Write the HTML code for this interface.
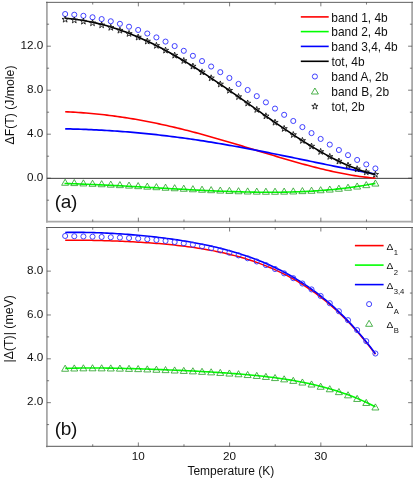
<!DOCTYPE html>
<html><head><meta charset="utf-8"><title>fig</title>
<style>
html,body{margin:0;padding:0;background:#fff}
#c{position:relative;width:415px;height:479px;overflow:hidden;background:#fff;font-family:"Liberation Sans",sans-serif;color:#111}
.t{position:absolute;line-height:0;white-space:nowrap;height:0}
.t::before{content:"";display:inline-block;height:0;vertical-align:baseline}
.t.c{transform:translateX(-50%)}
.t.rot{transform-origin:0 0;transform:rotate(-90deg) translateX(-50%)}
</style></head><body>
<div id="c">
<svg width="415" height="479" viewBox="0 0 415 479" style="position:absolute;left:0;top:0;will-change:transform">
<line x1="46.9" y1="1.85" x2="46.9" y2="222.55" stroke="#a8a8a8" stroke-width="1.8"/>
<line x1="412.1" y1="1.85" x2="412.1" y2="222.55" stroke="#a8a8a8" stroke-width="1.8"/>
<line x1="46.0" y1="221.65" x2="413.0" y2="221.65" stroke="#a8a8a8" stroke-width="1.8"/>
<line x1="46.0" y1="2.35" x2="413.0" y2="2.35" stroke="#606060" stroke-width="1"/>
<line x1="46.9" y1="227.0" x2="46.9" y2="447.34999999999997" stroke="#a8a8a8" stroke-width="1.8"/>
<line x1="412.1" y1="227.0" x2="412.1" y2="447.34999999999997" stroke="#a8a8a8" stroke-width="1.8"/>
<line x1="46.0" y1="446.45" x2="413.0" y2="446.45" stroke="#777" stroke-width="1.2"/>
<line x1="46.0" y1="227.5" x2="413.0" y2="227.5" stroke="#606060" stroke-width="1"/>
<line x1="92.72" y1="2.35" x2="92.72" y2="4.550000000000001" stroke="#444" stroke-width="0.7"/>
<line x1="92.72" y1="221.65" x2="92.72" y2="219.45000000000002" stroke="#444" stroke-width="0.7"/>
<line x1="92.72" y1="227.5" x2="92.72" y2="229.7" stroke="#444" stroke-width="0.7"/>
<line x1="92.72" y1="446.45" x2="92.72" y2="444.25" stroke="#444" stroke-width="0.7"/>
<line x1="138.35" y1="2.35" x2="138.35" y2="6.35" stroke="#444" stroke-width="0.7"/>
<line x1="138.35" y1="221.65" x2="138.35" y2="217.65" stroke="#444" stroke-width="0.7"/>
<line x1="138.35" y1="227.5" x2="138.35" y2="231.5" stroke="#444" stroke-width="0.7"/>
<line x1="138.35" y1="446.45" x2="138.35" y2="442.45" stroke="#444" stroke-width="0.7"/>
<line x1="183.97" y1="2.35" x2="183.97" y2="4.550000000000001" stroke="#444" stroke-width="0.7"/>
<line x1="183.97" y1="221.65" x2="183.97" y2="219.45000000000002" stroke="#444" stroke-width="0.7"/>
<line x1="183.97" y1="227.5" x2="183.97" y2="229.7" stroke="#444" stroke-width="0.7"/>
<line x1="183.97" y1="446.45" x2="183.97" y2="444.25" stroke="#444" stroke-width="0.7"/>
<line x1="229.60" y1="2.35" x2="229.60" y2="6.35" stroke="#444" stroke-width="0.7"/>
<line x1="229.60" y1="221.65" x2="229.60" y2="217.65" stroke="#444" stroke-width="0.7"/>
<line x1="229.60" y1="227.5" x2="229.60" y2="231.5" stroke="#444" stroke-width="0.7"/>
<line x1="229.60" y1="446.45" x2="229.60" y2="442.45" stroke="#444" stroke-width="0.7"/>
<line x1="275.23" y1="2.35" x2="275.23" y2="4.550000000000001" stroke="#444" stroke-width="0.7"/>
<line x1="275.23" y1="221.65" x2="275.23" y2="219.45000000000002" stroke="#444" stroke-width="0.7"/>
<line x1="275.23" y1="227.5" x2="275.23" y2="229.7" stroke="#444" stroke-width="0.7"/>
<line x1="275.23" y1="446.45" x2="275.23" y2="444.25" stroke="#444" stroke-width="0.7"/>
<line x1="320.85" y1="2.35" x2="320.85" y2="6.35" stroke="#444" stroke-width="0.7"/>
<line x1="320.85" y1="221.65" x2="320.85" y2="217.65" stroke="#444" stroke-width="0.7"/>
<line x1="320.85" y1="227.5" x2="320.85" y2="231.5" stroke="#444" stroke-width="0.7"/>
<line x1="320.85" y1="446.45" x2="320.85" y2="442.45" stroke="#444" stroke-width="0.7"/>
<line x1="366.48" y1="2.35" x2="366.48" y2="4.550000000000001" stroke="#444" stroke-width="0.7"/>
<line x1="366.48" y1="221.65" x2="366.48" y2="219.45000000000002" stroke="#444" stroke-width="0.7"/>
<line x1="366.48" y1="227.5" x2="366.48" y2="229.7" stroke="#444" stroke-width="0.7"/>
<line x1="366.48" y1="446.45" x2="366.48" y2="444.25" stroke="#444" stroke-width="0.7"/>
<line x1="46.9" y1="200.20" x2="49.1" y2="200.20" stroke="#444" stroke-width="0.7"/>
<line x1="412.1" y1="200.20" x2="409.90000000000003" y2="200.20" stroke="#444" stroke-width="0.7"/>
<line x1="46.9" y1="178.20" x2="50.9" y2="178.20" stroke="#444" stroke-width="0.7"/>
<line x1="412.1" y1="178.20" x2="408.1" y2="178.20" stroke="#444" stroke-width="0.7"/>
<line x1="46.9" y1="156.20" x2="49.1" y2="156.20" stroke="#444" stroke-width="0.7"/>
<line x1="412.1" y1="156.20" x2="409.90000000000003" y2="156.20" stroke="#444" stroke-width="0.7"/>
<line x1="46.9" y1="134.20" x2="50.9" y2="134.20" stroke="#444" stroke-width="0.7"/>
<line x1="412.1" y1="134.20" x2="408.1" y2="134.20" stroke="#444" stroke-width="0.7"/>
<line x1="46.9" y1="112.20" x2="49.1" y2="112.20" stroke="#444" stroke-width="0.7"/>
<line x1="412.1" y1="112.20" x2="409.90000000000003" y2="112.20" stroke="#444" stroke-width="0.7"/>
<line x1="46.9" y1="90.20" x2="50.9" y2="90.20" stroke="#444" stroke-width="0.7"/>
<line x1="412.1" y1="90.20" x2="408.1" y2="90.20" stroke="#444" stroke-width="0.7"/>
<line x1="46.9" y1="68.20" x2="49.1" y2="68.20" stroke="#444" stroke-width="0.7"/>
<line x1="412.1" y1="68.20" x2="409.90000000000003" y2="68.20" stroke="#444" stroke-width="0.7"/>
<line x1="46.9" y1="46.20" x2="50.9" y2="46.20" stroke="#444" stroke-width="0.7"/>
<line x1="412.1" y1="46.20" x2="408.1" y2="46.20" stroke="#444" stroke-width="0.7"/>
<line x1="46.9" y1="24.20" x2="49.1" y2="24.20" stroke="#444" stroke-width="0.7"/>
<line x1="412.1" y1="24.20" x2="409.90000000000003" y2="24.20" stroke="#444" stroke-width="0.7"/>
<line x1="46.9" y1="424.58" x2="49.1" y2="424.58" stroke="#444" stroke-width="0.7"/>
<line x1="412.1" y1="424.58" x2="409.90000000000003" y2="424.58" stroke="#444" stroke-width="0.7"/>
<line x1="46.9" y1="402.66" x2="50.9" y2="402.66" stroke="#444" stroke-width="0.7"/>
<line x1="412.1" y1="402.66" x2="408.1" y2="402.66" stroke="#444" stroke-width="0.7"/>
<line x1="46.9" y1="380.74" x2="49.1" y2="380.74" stroke="#444" stroke-width="0.7"/>
<line x1="412.1" y1="380.74" x2="409.90000000000003" y2="380.74" stroke="#444" stroke-width="0.7"/>
<line x1="46.9" y1="358.82" x2="50.9" y2="358.82" stroke="#444" stroke-width="0.7"/>
<line x1="412.1" y1="358.82" x2="408.1" y2="358.82" stroke="#444" stroke-width="0.7"/>
<line x1="46.9" y1="336.90" x2="49.1" y2="336.90" stroke="#444" stroke-width="0.7"/>
<line x1="412.1" y1="336.90" x2="409.90000000000003" y2="336.90" stroke="#444" stroke-width="0.7"/>
<line x1="46.9" y1="314.98" x2="50.9" y2="314.98" stroke="#444" stroke-width="0.7"/>
<line x1="412.1" y1="314.98" x2="408.1" y2="314.98" stroke="#444" stroke-width="0.7"/>
<line x1="46.9" y1="293.06" x2="49.1" y2="293.06" stroke="#444" stroke-width="0.7"/>
<line x1="412.1" y1="293.06" x2="409.90000000000003" y2="293.06" stroke="#444" stroke-width="0.7"/>
<line x1="46.9" y1="271.14" x2="50.9" y2="271.14" stroke="#444" stroke-width="0.7"/>
<line x1="412.1" y1="271.14" x2="408.1" y2="271.14" stroke="#444" stroke-width="0.7"/>
<line x1="46.9" y1="249.22" x2="49.1" y2="249.22" stroke="#444" stroke-width="0.7"/>
<line x1="412.1" y1="249.22" x2="409.90000000000003" y2="249.22" stroke="#444" stroke-width="0.7"/>
<line x1="46.9" y1="178.35" x2="412.1" y2="178.35" stroke="#3c3c3c" stroke-width="1"/>
<path d="M64.50,183.47 L67.11,183.56 L69.73,183.64 L72.34,183.73 L74.95,183.82 L77.56,183.91 L80.18,184.01 L82.79,184.11 L85.40,184.21 L88.01,184.32 L90.63,184.43 L93.24,184.54 L95.85,184.65 L98.46,184.77 L101.08,184.89 L103.69,185.01 L106.30,185.13 L108.91,185.26 L111.53,185.39 L114.14,185.52 L116.75,185.65 L119.36,185.79 L121.98,185.92 L124.59,186.06 L127.20,186.20 L129.82,186.34 L132.43,186.48 L135.04,186.62 L137.65,186.77 L140.27,186.91 L142.88,187.06 L145.49,187.21 L148.10,187.36 L150.72,187.50 L153.33,187.65 L155.94,187.80 L158.55,187.95 L161.17,188.10 L163.78,188.25 L166.39,188.40 L169.00,188.54 L171.62,188.69 L174.23,188.84 L176.84,188.98 L179.45,189.13 L182.07,189.27 L184.68,189.42 L187.29,189.56 L189.91,189.70 L192.52,189.83 L195.13,189.97 L197.74,190.10 L200.36,190.23 L202.97,190.36 L205.58,190.49 L208.19,190.61 L210.81,190.74 L213.42,190.85 L216.03,190.97 L218.64,191.08 L221.26,191.19 L223.87,191.29 L226.48,191.39 L229.09,191.48 L231.71,191.58 L234.32,191.66 L236.93,191.74 L239.54,191.82 L242.16,191.89 L244.77,191.96 L247.38,192.02 L249.99,192.07 L252.61,192.12 L255.22,192.16 L257.83,192.20 L260.45,192.23 L263.06,192.25 L265.67,192.27 L268.28,192.28 L270.90,192.28 L273.51,192.27 L276.12,192.26 L278.73,192.23 L281.35,192.20 L283.96,192.16 L286.57,192.11 L289.18,192.05 L291.80,191.99 L294.41,191.91 L297.02,191.82 L299.63,191.73 L302.25,191.62 L304.86,191.50 L307.47,191.37 L310.08,191.23 L312.70,191.08 L315.31,190.92 L317.92,190.74 L320.54,190.56 L323.15,190.36 L325.76,190.14 L328.37,189.92 L330.99,189.68 L333.60,189.43 L336.21,189.16 L338.82,188.88 L341.44,188.59 L344.05,188.28 L346.66,187.96 L349.27,187.62 L351.89,187.27 L354.50,186.90 L357.11,186.51 L359.72,186.11 L362.34,185.69 L364.95,185.25 L367.56,184.80 L370.17,184.33 L372.79,183.84 L375.40,183.34" fill="none" stroke="#00ff00" stroke-width="1.6"/>
<path d="M65.20,111.77 L67.81,111.88 L70.41,112.01 L73.02,112.15 L75.63,112.31 L78.23,112.47 L80.84,112.65 L83.45,112.84 L86.05,113.04 L88.66,113.26 L91.27,113.49 L93.87,113.73 L96.48,113.98 L99.09,114.25 L101.69,114.53 L104.30,114.82 L106.91,115.13 L109.51,115.44 L112.12,115.77 L114.73,116.12 L117.33,116.47 L119.94,116.84 L122.55,117.22 L125.15,117.62 L127.76,118.02 L130.37,118.44 L132.97,118.88 L135.58,119.32 L138.19,119.78 L140.79,120.24 L143.40,120.72 L146.01,121.22 L148.62,121.72 L151.22,122.24 L153.83,122.76 L156.44,123.30 L159.04,123.85 L161.65,124.41 L164.26,124.99 L166.86,125.57 L169.47,126.16 L172.08,126.77 L174.68,127.38 L177.29,128.00 L179.90,128.64 L182.50,129.28 L185.11,129.93 L187.72,130.59 L190.32,131.27 L192.93,131.94 L195.54,132.63 L198.14,133.33 L200.75,134.03 L203.36,134.74 L205.96,135.46 L208.57,136.19 L211.18,136.92 L213.78,137.66 L216.39,138.40 L219.00,139.15 L221.60,139.91 L224.21,140.67 L226.82,141.44 L229.42,142.21 L232.03,142.98 L234.64,143.76 L237.24,144.54 L239.85,145.33 L242.46,146.11 L245.06,146.90 L247.67,147.69 L250.28,148.49 L252.88,149.28 L255.49,150.07 L258.10,150.87 L260.70,151.66 L263.31,152.45 L265.92,153.24 L268.52,154.03 L271.13,154.82 L273.74,155.60 L276.34,156.38 L278.95,157.16 L281.56,157.94 L284.16,158.71 L286.77,159.47 L289.38,160.23 L291.98,160.98 L294.59,161.72 L297.20,162.46 L299.81,163.19 L302.41,163.91 L305.02,164.62 L307.63,165.33 L310.23,166.02 L312.84,166.70 L315.45,167.37 L318.05,168.03 L320.66,168.68 L323.27,169.31 L325.87,169.93 L328.48,170.53 L331.09,171.12 L333.69,171.70 L336.30,172.25 L338.91,172.79 L341.51,173.32 L344.12,173.82 L346.73,174.30 L349.33,174.77 L351.94,175.21 L354.55,175.64 L357.15,176.04 L359.76,176.42 L362.37,176.77 L364.97,177.10 L367.58,177.41 L370.19,177.69 L372.79,177.95 L375.40,178.17" fill="none" stroke="#ff0000" stroke-width="1.6"/>
<path d="M65.20,128.84 L67.81,128.90 L70.41,128.96 L73.02,129.03 L75.63,129.10 L78.23,129.18 L80.84,129.27 L83.45,129.36 L86.05,129.46 L88.66,129.57 L91.27,129.68 L93.87,129.80 L96.48,129.92 L99.09,130.05 L101.69,130.19 L104.30,130.34 L106.91,130.49 L109.51,130.65 L112.12,130.81 L114.73,130.99 L117.33,131.17 L119.94,131.35 L122.55,131.55 L125.15,131.75 L127.76,131.95 L130.37,132.17 L132.97,132.39 L135.58,132.62 L138.19,132.85 L140.79,133.09 L143.40,133.34 L146.01,133.60 L148.62,133.86 L151.22,134.13 L153.83,134.41 L156.44,134.70 L159.04,134.99 L161.65,135.29 L164.26,135.59 L166.86,135.90 L169.47,136.22 L172.08,136.55 L174.68,136.88 L177.29,137.22 L179.90,137.57 L182.50,137.92 L185.11,138.28 L187.72,138.64 L190.32,139.01 L192.93,139.39 L195.54,139.77 L198.14,140.17 L200.75,140.56 L203.36,140.96 L205.96,141.37 L208.57,141.79 L211.18,142.21 L213.78,142.63 L216.39,143.06 L219.00,143.50 L221.60,143.94 L224.21,144.39 L226.82,144.84 L229.42,145.30 L232.03,145.76 L234.64,146.23 L237.24,146.70 L239.85,147.18 L242.46,147.66 L245.06,148.15 L247.67,148.64 L250.28,149.13 L252.88,149.63 L255.49,150.13 L258.10,150.63 L260.70,151.14 L263.31,151.65 L265.92,152.17 L268.52,152.69 L271.13,153.21 L273.74,153.73 L276.34,154.26 L278.95,154.78 L281.56,155.31 L284.16,155.85 L286.77,156.38 L289.38,156.92 L291.98,157.45 L294.59,157.99 L297.20,158.53 L299.81,159.07 L302.41,159.61 L305.02,160.15 L307.63,160.69 L310.23,161.23 L312.84,161.77 L315.45,162.31 L318.05,162.85 L320.66,163.39 L323.27,163.93 L325.87,164.46 L328.48,165.00 L331.09,165.53 L333.69,166.06 L336.30,166.59 L338.91,167.11 L341.51,167.63 L344.12,168.15 L346.73,168.67 L349.33,169.18 L351.94,169.69 L354.55,170.19 L357.15,170.69 L359.76,171.19 L362.37,171.68 L364.97,172.16 L367.58,172.64 L370.19,173.11 L372.79,173.58 L375.40,174.04" fill="none" stroke="#0000ff" stroke-width="1.7"/>
<path d="M65.15,18.26 L67.76,18.47 L70.36,18.72 L72.97,19.00 L75.58,19.32 L78.19,19.67 L80.79,20.05 L83.40,20.48 L86.01,20.93 L88.61,21.43 L91.22,21.95 L93.83,22.51 L96.44,23.11 L99.04,23.74 L101.65,24.40 L104.26,25.10 L106.86,25.83 L109.47,26.59 L112.08,27.39 L114.69,28.22 L117.29,29.08 L119.90,29.97 L122.51,30.90 L125.11,31.86 L127.72,32.84 L130.33,33.86 L132.94,34.91 L135.54,35.99 L138.15,37.09 L140.76,38.23 L143.36,39.40 L145.97,40.59 L148.58,41.81 L151.19,43.06 L153.79,44.33 L156.40,45.64 L159.01,46.96 L161.61,48.32 L164.22,49.69 L166.83,51.10 L169.44,52.52 L172.04,53.97 L174.65,55.44 L177.26,56.94 L179.86,58.45 L182.47,59.99 L185.08,61.55 L187.69,63.13 L190.29,64.72 L192.90,66.34 L195.51,67.97 L198.11,69.62 L200.72,71.29 L203.33,72.97 L205.94,74.67 L208.54,76.38 L211.15,78.10 L213.76,79.84 L216.36,81.59 L218.97,83.36 L221.58,85.13 L224.19,86.91 L226.79,88.71 L229.40,90.51 L232.01,92.31 L234.61,94.13 L237.22,95.95 L239.83,97.78 L242.44,99.61 L245.04,101.44 L247.65,103.28 L250.26,105.11 L252.86,106.95 L255.47,108.79 L258.08,110.62 L260.69,112.46 L263.29,114.29 L265.90,116.12 L268.51,117.94 L271.11,119.75 L273.72,121.56 L276.33,123.36 L278.94,125.15 L281.54,126.94 L284.15,128.71 L286.76,130.46 L289.36,132.21 L291.97,133.94 L294.58,135.65 L297.19,137.35 L299.79,139.03 L302.40,140.69 L305.01,142.33 L307.61,143.95 L310.22,145.55 L312.83,147.12 L315.44,148.67 L318.04,150.20 L320.65,151.69 L323.26,153.16 L325.86,154.60 L328.47,156.00 L331.08,157.38 L333.69,158.72 L336.29,160.03 L338.90,161.30 L341.51,162.53 L344.11,163.73 L346.72,164.88 L349.33,166.00 L351.94,167.07 L354.54,168.10 L357.15,169.08 L359.76,170.01 L362.36,170.90 L364.97,171.74 L367.58,172.52 L370.19,173.26 L372.79,173.94 L375.40,174.56" fill="none" stroke="#000" stroke-width="1.6"/>
<g fill="none" stroke="#2c2cff" stroke-width="0.9">
<circle cx="65.15" cy="14.03" r="2.55"/>
<circle cx="74.28" cy="14.73" r="2.55"/>
<circle cx="83.40" cy="15.81" r="2.55"/>
<circle cx="92.53" cy="17.26" r="2.55"/>
<circle cx="101.65" cy="19.08" r="2.55"/>
<circle cx="110.78" cy="21.27" r="2.55"/>
<circle cx="119.90" cy="23.82" r="2.55"/>
<circle cx="129.03" cy="26.71" r="2.55"/>
<circle cx="138.15" cy="29.95" r="2.55"/>
<circle cx="147.28" cy="33.52" r="2.55"/>
<circle cx="156.40" cy="37.40" r="2.55"/>
<circle cx="165.53" cy="41.59" r="2.55"/>
<circle cx="174.65" cy="46.07" r="2.55"/>
<circle cx="183.78" cy="50.82" r="2.55"/>
<circle cx="192.90" cy="55.83" r="2.55"/>
<circle cx="202.03" cy="61.06" r="2.55"/>
<circle cx="211.15" cy="66.52" r="2.55"/>
<circle cx="220.28" cy="72.16" r="2.55"/>
<circle cx="229.40" cy="77.97" r="2.55"/>
<circle cx="238.53" cy="83.92" r="2.55"/>
<circle cx="247.65" cy="89.99" r="2.55"/>
<circle cx="256.77" cy="96.14" r="2.55"/>
<circle cx="265.90" cy="102.35" r="2.55"/>
<circle cx="275.02" cy="108.58" r="2.55"/>
<circle cx="284.15" cy="114.81" r="2.55"/>
<circle cx="293.27" cy="120.99" r="2.55"/>
<circle cx="302.40" cy="127.10" r="2.55"/>
<circle cx="311.52" cy="133.10" r="2.55"/>
<circle cx="320.65" cy="138.94" r="2.55"/>
<circle cx="329.77" cy="144.59" r="2.55"/>
<circle cx="338.90" cy="150.00" r="2.55"/>
<circle cx="348.02" cy="155.14" r="2.55"/>
<circle cx="357.15" cy="159.96" r="2.55"/>
<circle cx="366.27" cy="164.42" r="2.55"/>
<circle cx="375.40" cy="168.45" r="2.55"/>
</g>
<g fill="none" stroke="#22a022" stroke-width="0.8">
<path d="M65.15,179.18 L68.65,185.28 L61.65,185.28Z"/>
<path d="M74.28,179.49 L77.78,185.59 L70.78,185.59Z"/>
<path d="M83.40,179.84 L86.90,185.94 L79.90,185.94Z"/>
<path d="M92.53,180.22 L96.03,186.32 L89.03,186.32Z"/>
<path d="M101.65,180.64 L105.15,186.74 L98.15,186.74Z"/>
<path d="M110.78,181.08 L114.28,187.18 L107.28,187.18Z"/>
<path d="M119.90,181.55 L123.40,187.65 L116.40,187.65Z"/>
<path d="M129.03,182.05 L132.53,188.15 L125.53,188.15Z"/>
<path d="M138.15,182.56 L141.65,188.66 L134.65,188.66Z"/>
<path d="M147.28,183.08 L150.78,189.18 L143.78,189.18Z"/>
<path d="M156.40,183.61 L159.90,189.71 L152.90,189.71Z"/>
<path d="M165.53,184.14 L169.03,190.24 L162.03,190.24Z"/>
<path d="M174.65,184.66 L178.15,190.76 L171.15,190.76Z"/>
<path d="M183.78,185.17 L187.28,191.27 L180.28,191.27Z"/>
<path d="M192.90,185.67 L196.40,191.77 L189.40,191.77Z"/>
<path d="M202.03,186.15 L205.53,192.25 L198.53,192.25Z"/>
<path d="M211.15,186.59 L214.65,192.69 L207.65,192.69Z"/>
<path d="M220.28,186.99 L223.78,193.09 L216.78,193.09Z"/>
<path d="M229.40,187.35 L232.90,193.45 L225.90,193.45Z"/>
<path d="M238.53,187.66 L242.03,193.76 L235.03,193.76Z"/>
<path d="M247.65,187.90 L251.15,194.00 L244.15,194.00Z"/>
<path d="M256.77,188.07 L260.27,194.17 L253.27,194.17Z"/>
<path d="M265.90,188.16 L269.40,194.26 L262.40,194.26Z"/>
<path d="M275.02,188.17 L278.52,194.27 L271.52,194.27Z"/>
<path d="M284.15,188.07 L287.65,194.17 L280.65,194.17Z"/>
<path d="M293.27,187.87 L296.77,193.97 L289.77,193.97Z"/>
<path d="M302.40,187.54 L305.90,193.64 L298.90,193.64Z"/>
<path d="M311.52,187.17 L315.02,193.27 L308.02,193.27Z"/>
<path d="M320.65,186.66 L324.15,192.76 L317.15,192.76Z"/>
<path d="M329.77,185.99 L333.27,192.09 L326.27,192.09Z"/>
<path d="M338.90,185.16 L342.40,191.26 L335.40,191.26Z"/>
<path d="M348.02,184.16 L351.52,190.26 L344.52,190.26Z"/>
<path d="M357.15,182.96 L360.65,189.06 L353.65,189.06Z"/>
<path d="M366.27,181.57 L369.77,187.67 L362.77,187.67Z"/>
<path d="M375.40,179.97 L378.90,186.07 L371.90,186.07Z"/>
</g>
<g fill="none" stroke="#111" stroke-width="0.85">
<path d="M65.15,16.16 L65.91,18.41 L68.29,18.44 L66.39,19.87 L67.09,22.13 L65.15,20.76 L63.21,22.13 L63.91,19.87 L62.01,18.44 L64.39,18.41Z"/>
<path d="M74.28,16.93 L75.04,19.18 L77.41,19.21 L75.51,20.63 L76.21,22.90 L74.28,21.53 L72.34,22.90 L73.04,20.63 L71.14,19.21 L73.51,19.18Z"/>
<path d="M83.40,18.14 L84.16,20.38 L86.54,20.42 L84.64,21.84 L85.34,24.11 L83.40,22.74 L81.46,24.11 L82.16,21.84 L80.26,20.42 L82.64,20.38Z"/>
<path d="M92.53,19.77 L93.29,22.02 L95.66,22.05 L93.76,23.47 L94.46,25.74 L92.53,24.37 L90.59,25.74 L91.29,23.47 L89.39,22.05 L91.76,22.02Z"/>
<path d="M101.65,21.82 L102.41,24.07 L104.79,24.10 L102.89,25.52 L103.59,27.79 L101.65,26.42 L99.71,27.79 L100.41,25.52 L98.51,24.10 L100.89,24.07Z"/>
<path d="M110.78,24.29 L111.54,26.54 L113.91,26.57 L112.01,27.99 L112.71,30.26 L110.78,28.89 L108.84,30.26 L109.54,27.99 L107.64,26.57 L110.01,26.54Z"/>
<path d="M119.90,27.15 L120.66,29.40 L123.04,29.43 L121.14,30.86 L121.84,33.12 L119.90,31.75 L117.96,33.12 L118.66,30.86 L116.76,29.43 L119.14,29.40Z"/>
<path d="M129.03,30.41 L129.79,32.66 L132.16,32.69 L130.26,34.11 L130.96,36.38 L129.03,35.01 L127.09,36.38 L127.79,34.11 L125.89,32.69 L128.26,32.66Z"/>
<path d="M138.15,34.03 L138.91,36.28 L141.29,36.31 L139.39,37.74 L140.09,40.00 L138.15,38.63 L136.21,40.00 L136.91,37.74 L135.01,36.31 L137.39,36.28Z"/>
<path d="M147.28,38.02 L148.04,40.26 L150.41,40.30 L148.51,41.72 L149.21,43.99 L147.28,42.62 L145.34,43.99 L146.04,41.72 L144.14,40.30 L146.51,40.26Z"/>
<path d="M156.40,42.34 L157.16,44.58 L159.54,44.62 L157.64,46.04 L158.34,48.31 L156.40,46.94 L154.46,48.31 L155.16,46.04 L153.26,44.62 L155.64,44.58Z"/>
<path d="M165.53,47.09 L166.29,49.34 L168.66,49.37 L166.76,50.79 L167.46,53.06 L165.53,51.69 L163.59,53.06 L164.29,50.79 L162.39,49.37 L164.76,49.34Z"/>
<path d="M174.65,52.14 L175.41,54.39 L177.79,54.42 L175.89,55.85 L176.59,58.11 L174.65,56.74 L172.71,58.11 L173.41,55.85 L171.51,54.42 L173.89,54.39Z"/>
<path d="M183.78,57.47 L184.54,59.72 L186.91,59.75 L185.01,61.17 L185.71,63.44 L183.78,62.07 L181.84,63.44 L182.54,61.17 L180.64,59.75 L183.01,59.72Z"/>
<path d="M192.90,63.04 L193.66,65.29 L196.04,65.32 L194.14,66.74 L194.84,69.01 L192.90,67.64 L190.96,69.01 L191.66,66.74 L189.76,65.32 L192.14,65.29Z"/>
<path d="M202.03,68.83 L202.79,71.07 L205.16,71.11 L203.26,72.53 L203.96,74.80 L202.03,73.43 L200.09,74.80 L200.79,72.53 L198.89,71.11 L201.26,71.07Z"/>
<path d="M211.15,74.80 L211.91,77.05 L214.29,77.08 L212.39,78.51 L213.09,80.77 L211.15,79.40 L209.21,80.77 L209.91,78.51 L208.01,77.08 L210.39,77.05Z"/>
<path d="M220.28,80.94 L221.04,83.19 L223.41,83.22 L221.51,84.64 L222.21,86.91 L220.28,85.54 L218.34,86.91 L219.04,84.64 L217.14,83.22 L219.51,83.19Z"/>
<path d="M229.40,87.21 L230.16,89.45 L232.54,89.49 L230.64,90.91 L231.34,93.18 L229.40,91.81 L227.46,93.18 L228.16,90.91 L226.26,89.49 L228.64,89.45Z"/>
<path d="M238.53,93.56 L239.29,95.81 L241.66,95.84 L239.76,97.26 L240.46,99.53 L238.53,98.16 L236.59,99.53 L237.29,97.26 L235.39,95.84 L237.76,95.81Z"/>
<path d="M247.65,99.98 L248.41,102.22 L250.79,102.26 L248.89,103.68 L249.59,105.94 L247.65,104.58 L245.71,105.94 L246.41,103.68 L244.51,102.26 L246.89,102.22Z"/>
<path d="M256.77,106.41 L257.54,108.65 L259.91,108.69 L258.01,110.11 L258.71,112.38 L256.77,111.01 L254.84,112.38 L255.54,110.11 L253.64,108.69 L256.01,108.65Z"/>
<path d="M265.90,112.82 L266.66,115.06 L269.04,115.10 L267.14,116.52 L267.84,118.79 L265.90,117.42 L263.96,118.79 L264.66,116.52 L262.76,115.10 L265.14,115.06Z"/>
<path d="M275.02,119.16 L275.79,121.41 L278.16,121.44 L276.26,122.87 L276.96,125.13 L275.02,123.76 L273.09,125.13 L273.79,122.87 L271.89,121.44 L274.26,121.41Z"/>
<path d="M284.15,125.41 L284.91,127.65 L287.29,127.69 L285.39,129.11 L286.09,131.37 L284.15,130.01 L282.21,131.37 L282.91,129.11 L281.01,127.69 L283.39,127.65Z"/>
<path d="M293.27,131.50 L294.04,133.74 L296.41,133.78 L294.51,135.20 L295.21,137.47 L293.27,136.10 L291.34,137.47 L292.04,135.20 L290.14,133.78 L292.51,133.74Z"/>
<path d="M302.40,137.39 L303.16,139.64 L305.54,139.67 L303.64,141.09 L304.34,143.36 L302.40,141.99 L300.46,143.36 L301.16,141.09 L299.26,139.67 L301.64,139.64Z"/>
<path d="M311.52,143.04 L312.29,145.29 L314.66,145.32 L312.76,146.74 L313.46,149.01 L311.52,147.64 L309.59,149.01 L310.29,146.74 L308.39,145.32 L310.76,145.29Z"/>
<path d="M320.65,148.39 L321.41,150.64 L323.79,150.67 L321.89,152.09 L322.59,154.36 L320.65,152.99 L318.71,154.36 L319.41,152.09 L317.51,150.67 L319.89,150.64Z"/>
<path d="M329.77,153.40 L330.54,155.64 L332.91,155.68 L331.01,157.10 L331.71,159.37 L329.77,158.00 L327.84,159.37 L328.54,157.10 L326.64,155.68 L329.01,155.64Z"/>
<path d="M338.90,158.00 L339.66,160.25 L342.04,160.28 L340.14,161.70 L340.84,163.97 L338.90,162.60 L336.96,163.97 L337.66,161.70 L335.76,160.28 L338.14,160.25Z"/>
<path d="M348.02,162.15 L348.79,164.39 L351.16,164.43 L349.26,165.85 L349.96,168.12 L348.02,166.75 L346.09,168.12 L346.79,165.85 L344.89,164.43 L347.26,164.39Z"/>
<path d="M357.15,165.78 L357.91,168.03 L360.29,168.06 L358.39,169.48 L359.09,171.75 L357.15,170.38 L355.21,171.75 L355.91,169.48 L354.01,168.06 L356.39,168.03Z"/>
<path d="M366.27,168.84 L367.04,171.09 L369.41,171.12 L367.51,172.54 L368.21,174.81 L366.27,173.44 L364.34,174.81 L365.04,172.54 L363.14,171.12 L365.51,171.09Z"/>
<path d="M375.40,171.26 L376.16,173.51 L378.54,173.54 L376.64,174.97 L377.34,177.23 L375.40,175.86 L373.46,177.23 L374.16,174.97 L372.26,173.54 L374.64,173.51Z"/>
</g>
<path d="M65.20,368.41 L67.81,368.33 L70.41,368.25 L73.02,368.18 L75.63,368.13 L78.23,368.08 L80.84,368.04 L83.45,368.02 L86.05,368.00 L88.66,367.98 L91.27,367.98 L93.87,367.98 L96.48,367.99 L99.09,368.00 L101.69,368.02 L104.30,368.05 L106.91,368.08 L109.51,368.12 L112.12,368.16 L114.73,368.21 L117.33,368.26 L119.94,368.32 L122.55,368.38 L125.15,368.44 L127.76,368.51 L130.37,368.58 L132.97,368.65 L135.58,368.73 L138.19,368.81 L140.79,368.89 L143.40,368.98 L146.01,369.07 L148.62,369.16 L151.22,369.25 L153.83,369.35 L156.44,369.44 L159.04,369.54 L161.65,369.64 L164.26,369.75 L166.86,369.86 L169.47,369.96 L172.08,370.07 L174.68,370.19 L177.29,370.30 L179.90,370.42 L182.50,370.54 L185.11,370.66 L187.72,370.79 L190.32,370.91 L192.93,371.04 L195.54,371.17 L198.14,371.31 L200.75,371.45 L203.36,371.59 L205.96,371.74 L208.57,371.89 L211.18,372.04 L213.78,372.20 L216.39,372.36 L219.00,372.52 L221.60,372.69 L224.21,372.87 L226.82,373.05 L229.42,373.23 L232.03,373.43 L234.64,373.62 L237.24,373.83 L239.85,374.04 L242.46,374.26 L245.06,374.49 L247.67,374.72 L250.28,374.96 L252.88,375.21 L255.49,375.47 L258.10,375.74 L260.70,376.02 L263.31,376.31 L265.92,376.61 L268.52,376.92 L271.13,377.25 L273.74,377.58 L276.34,377.93 L278.95,378.29 L281.56,378.67 L284.16,379.06 L286.77,379.46 L289.38,379.88 L291.98,380.32 L294.59,380.77 L297.20,381.24 L299.81,381.73 L302.41,382.24 L305.02,382.76 L307.63,383.31 L310.23,383.87 L312.84,384.46 L315.45,385.07 L318.05,385.70 L320.66,386.35 L323.27,387.03 L325.87,387.74 L328.48,388.46 L331.09,389.22 L333.69,390.00 L336.30,390.81 L338.91,391.65 L341.51,392.51 L344.12,393.41 L346.73,394.34 L349.33,395.30 L351.94,396.29 L354.55,397.32 L357.15,398.38 L359.76,399.47 L362.37,400.61 L364.97,401.78 L367.58,402.98 L370.19,404.23 L372.79,405.52 L375.40,406.85" fill="none" stroke="#00ff00" stroke-width="1.6"/>
<path d="M65.20,240.18 L67.81,240.17 L70.41,240.16 L73.02,240.16 L75.63,240.17 L78.23,240.19 L80.84,240.21 L83.45,240.24 L86.05,240.27 L88.66,240.31 L91.27,240.35 L93.87,240.40 L96.48,240.46 L99.09,240.52 L101.69,240.59 L104.30,240.66 L106.91,240.74 L109.51,240.82 L112.12,240.91 L114.73,241.00 L117.33,241.10 L119.94,241.21 L122.55,241.32 L125.15,241.44 L127.76,241.57 L130.37,241.70 L132.97,241.83 L135.58,241.98 L138.19,242.13 L140.79,242.29 L143.40,242.45 L146.01,242.63 L148.62,242.81 L151.22,242.99 L153.83,243.19 L156.44,243.40 L159.04,243.61 L161.65,243.83 L164.26,244.07 L166.86,244.31 L169.47,244.56 L172.08,244.83 L174.68,245.10 L177.29,245.39 L179.90,245.69 L182.50,246.00 L185.11,246.32 L187.72,246.66 L190.32,247.01 L192.93,247.38 L195.54,247.76 L198.14,248.15 L200.75,248.56 L203.36,248.99 L205.96,249.43 L208.57,249.89 L211.18,250.37 L213.78,250.87 L216.39,251.39 L219.00,251.93 L221.60,252.49 L224.21,253.07 L226.82,253.67 L229.42,254.30 L232.03,254.94 L234.64,255.62 L237.24,256.32 L239.85,257.04 L242.46,257.79 L245.06,258.57 L247.67,259.37 L250.28,260.21 L252.88,261.07 L255.49,261.97 L258.10,262.90 L260.70,263.86 L263.31,264.85 L265.92,265.88 L268.52,266.94 L271.13,268.04 L273.74,269.17 L276.34,270.34 L278.95,271.56 L281.56,272.81 L284.16,274.10 L286.77,275.44 L289.38,276.82 L291.98,278.24 L294.59,279.71 L297.20,281.22 L299.81,282.79 L302.41,284.40 L305.02,286.06 L307.63,287.77 L310.23,289.53 L312.84,291.35 L315.45,293.22 L318.05,295.15 L320.66,297.13 L323.27,299.17 L325.87,301.28 L328.48,303.44 L331.09,305.66 L333.69,307.95 L336.30,310.30 L338.91,312.72 L341.51,315.20 L344.12,317.75 L346.73,320.38 L349.33,323.07 L351.94,325.84 L354.55,328.68 L357.15,331.60 L359.76,334.59 L362.37,337.66 L364.97,340.82 L367.58,344.05 L370.19,347.37 L372.79,350.77 L375.40,354.25" fill="none" stroke="#ff0000" stroke-width="1.5"/>
<path d="M65.20,232.45 L67.81,232.41 L70.41,232.38 L73.02,232.36 L75.63,232.35 L78.23,232.36 L80.84,232.38 L83.45,232.41 L86.05,232.45 L88.66,232.50 L91.27,232.56 L93.87,232.63 L96.48,232.71 L99.09,232.80 L101.69,232.90 L104.30,233.01 L106.91,233.13 L109.51,233.26 L112.12,233.40 L114.73,233.55 L117.33,233.71 L119.94,233.87 L122.55,234.05 L125.15,234.23 L127.76,234.42 L130.37,234.62 L132.97,234.83 L135.58,235.05 L138.19,235.28 L140.79,235.52 L143.40,235.77 L146.01,236.02 L148.62,236.29 L151.22,236.56 L153.83,236.85 L156.44,237.14 L159.04,237.45 L161.65,237.76 L164.26,238.09 L166.86,238.42 L169.47,238.77 L172.08,239.13 L174.68,239.50 L177.29,239.89 L179.90,240.28 L182.50,240.69 L185.11,241.11 L187.72,241.55 L190.32,241.99 L192.93,242.46 L195.54,242.93 L198.14,243.43 L200.75,243.94 L203.36,244.46 L205.96,245.00 L208.57,245.56 L211.18,246.14 L213.78,246.73 L216.39,247.34 L219.00,247.98 L221.60,248.63 L224.21,249.30 L226.82,250.00 L229.42,250.71 L232.03,251.45 L234.64,252.22 L237.24,253.00 L239.85,253.81 L242.46,254.65 L245.06,255.51 L247.67,256.40 L250.28,257.32 L252.88,258.27 L255.49,259.24 L258.10,260.25 L260.70,261.29 L263.31,262.35 L265.92,263.46 L268.52,264.59 L271.13,265.76 L273.74,266.97 L276.34,268.21 L278.95,269.49 L281.56,270.81 L284.16,272.17 L286.77,273.57 L289.38,275.01 L291.98,276.49 L294.59,278.02 L297.20,279.59 L299.81,281.21 L302.41,282.88 L305.02,284.59 L307.63,286.35 L310.23,288.17 L312.84,290.03 L315.45,291.95 L318.05,293.92 L320.66,295.95 L323.27,298.04 L325.87,300.18 L328.48,302.38 L331.09,304.65 L333.69,306.97 L336.30,309.36 L338.91,311.82 L341.51,314.33 L344.12,316.92 L346.73,319.58 L349.33,322.30 L351.94,325.10 L354.55,327.97 L357.15,330.92 L359.76,333.94 L362.37,337.04 L364.97,340.22 L367.58,343.48 L370.19,346.83 L372.79,350.25 L375.40,353.76" fill="none" stroke="#0000ff" stroke-width="1.6"/>
<g fill="none" stroke="#2c2cff" stroke-width="0.9">
<circle cx="65.15" cy="235.98" r="2.55"/>
<circle cx="74.28" cy="236.23" r="2.55"/>
<circle cx="83.40" cy="236.46" r="2.55"/>
<circle cx="92.53" cy="236.70" r="2.55"/>
<circle cx="101.65" cy="236.95" r="2.55"/>
<circle cx="110.78" cy="237.25" r="2.55"/>
<circle cx="119.90" cy="237.61" r="2.55"/>
<circle cx="129.03" cy="238.05" r="2.55"/>
<circle cx="138.15" cy="238.58" r="2.55"/>
<circle cx="147.28" cy="239.23" r="2.55"/>
<circle cx="156.40" cy="240.00" r="2.55"/>
<circle cx="165.53" cy="240.92" r="2.55"/>
<circle cx="174.65" cy="242.00" r="2.55"/>
<circle cx="183.78" cy="243.26" r="2.55"/>
<circle cx="192.90" cy="244.71" r="2.55"/>
<circle cx="202.03" cy="246.37" r="2.55"/>
<circle cx="211.15" cy="248.25" r="2.55"/>
<circle cx="220.28" cy="250.37" r="2.55"/>
<circle cx="229.40" cy="252.73" r="2.55"/>
<circle cx="238.53" cy="255.36" r="2.55"/>
<circle cx="247.65" cy="258.27" r="2.55"/>
<circle cx="256.77" cy="261.49" r="2.55"/>
<circle cx="265.90" cy="265.06" r="2.55"/>
<circle cx="275.02" cy="269.00" r="2.55"/>
<circle cx="284.15" cy="273.36" r="2.55"/>
<circle cx="293.27" cy="278.18" r="2.55"/>
<circle cx="302.40" cy="283.51" r="2.55"/>
<circle cx="311.52" cy="289.41" r="2.55"/>
<circle cx="320.65" cy="295.95" r="2.55"/>
<circle cx="329.77" cy="303.19" r="2.55"/>
<circle cx="338.90" cy="311.22" r="2.55"/>
<circle cx="348.02" cy="320.16" r="2.55"/>
<circle cx="357.15" cy="330.10" r="2.55"/>
<circle cx="366.27" cy="341.17" r="2.55"/>
<circle cx="375.40" cy="353.52" r="2.55"/>
</g>
<g fill="none" stroke="#22a022" stroke-width="0.8">
<path d="M65.15,365.15 L68.65,371.25 L61.65,371.25Z"/>
<path d="M74.28,364.89 L77.78,370.99 L70.78,370.99Z"/>
<path d="M83.40,364.75 L86.90,370.85 L79.90,370.85Z"/>
<path d="M92.53,364.71 L96.03,370.81 L89.03,370.81Z"/>
<path d="M101.65,364.76 L105.15,370.86 L98.15,370.86Z"/>
<path d="M110.78,364.87 L114.28,370.97 L107.28,370.97Z"/>
<path d="M119.90,365.05 L123.40,371.15 L116.40,371.15Z"/>
<path d="M129.03,365.28 L132.53,371.38 L125.53,371.38Z"/>
<path d="M138.15,365.54 L141.65,371.64 L134.65,371.64Z"/>
<path d="M147.28,365.84 L150.78,371.94 L143.78,371.94Z"/>
<path d="M156.40,366.17 L159.90,372.27 L152.90,372.27Z"/>
<path d="M165.53,366.53 L169.03,372.63 L162.03,372.63Z"/>
<path d="M174.65,366.92 L178.15,373.02 L171.15,373.02Z"/>
<path d="M183.78,367.33 L187.28,373.43 L180.28,373.43Z"/>
<path d="M192.90,367.77 L196.40,373.87 L189.40,373.87Z"/>
<path d="M202.03,368.25 L205.53,374.35 L198.53,374.35Z"/>
<path d="M211.15,368.77 L214.65,374.87 L207.65,374.87Z"/>
<path d="M220.28,369.34 L223.78,375.44 L216.78,375.44Z"/>
<path d="M229.40,369.97 L232.90,376.07 L225.90,376.07Z"/>
<path d="M238.53,370.67 L242.03,376.77 L235.03,376.77Z"/>
<path d="M247.65,371.45 L251.15,377.55 L244.15,377.55Z"/>
<path d="M256.77,372.34 L260.27,378.44 L253.27,378.44Z"/>
<path d="M265.90,373.34 L269.40,379.44 L262.40,379.44Z"/>
<path d="M275.02,374.49 L278.52,380.59 L271.52,380.59Z"/>
<path d="M284.15,375.79 L287.65,381.89 L280.65,381.89Z"/>
<path d="M293.27,377.28 L296.77,383.38 L289.77,383.38Z"/>
<path d="M302.40,378.97 L305.90,385.07 L298.90,385.07Z"/>
<path d="M311.52,380.93 L315.02,387.03 L308.02,387.03Z"/>
<path d="M320.65,383.16 L324.15,389.26 L317.15,389.26Z"/>
<path d="M329.77,385.68 L333.27,391.78 L326.27,391.78Z"/>
<path d="M338.90,388.53 L342.40,394.63 L335.40,394.63Z"/>
<path d="M348.02,391.73 L351.52,397.83 L344.52,397.83Z"/>
<path d="M357.15,395.34 L360.65,401.44 L353.65,401.44Z"/>
<path d="M366.27,399.37 L369.77,405.47 L362.77,405.47Z"/>
<path d="M375.40,403.88 L378.90,409.98 L371.90,409.98Z"/>
</g>
<line x1="300.8" y1="16.9" x2="328.7" y2="16.9" stroke="#ff0000" stroke-width="1.6"/>
<line x1="300.8" y1="31.6" x2="328.7" y2="31.6" stroke="#00ff00" stroke-width="1.6"/>
<line x1="300.8" y1="46.4" x2="328.7" y2="46.4" stroke="#0000ff" stroke-width="1.6"/>
<line x1="300.8" y1="61.3" x2="328.7" y2="61.3" stroke="#000" stroke-width="1.6"/>
<g fill="none" stroke="#2c2cff" stroke-width="0.9"><circle cx="314.90" cy="76.50" r="2.55"/></g>
<g fill="none" stroke="#22a022" stroke-width="0.8"><path d="M314.90,88.00 L318.40,94.00 L311.40,94.00Z"/></g>
<g fill="none" stroke="#111" stroke-width="0.85"><path d="M314.90,103.10 L315.66,105.35 L318.04,105.38 L316.14,106.80 L316.84,109.07 L314.90,107.70 L312.96,109.07 L313.66,106.80 L311.76,105.38 L314.14,105.35Z"/></g>
<line x1="354.9" y1="245.6" x2="383.6" y2="245.6" stroke="#ff0000" stroke-width="1.6"/>
<line x1="354.9" y1="265.1" x2="383.6" y2="265.1" stroke="#00ff00" stroke-width="1.6"/>
<line x1="354.9" y1="284.6" x2="383.6" y2="284.6" stroke="#0000ff" stroke-width="1.6"/>
<g fill="none" stroke="#2c2cff" stroke-width="0.9"><circle cx="369.10" cy="304.10" r="2.55"/></g>
<g fill="none" stroke="#22a022" stroke-width="0.8"><path d="M369.10,320.30 L372.60,326.30 L365.60,326.30Z"/></g>
<g font-family="Liberation Sans, sans-serif" fill="#111">
<text x="43.15" y="48.85" font-size="11.7" text-anchor="end" >12.0</text>
<text x="43.15" y="92.85" font-size="11.7" text-anchor="end" >8.0</text>
<text x="43.15" y="136.85" font-size="11.7" text-anchor="end" >4.0</text>
<text x="43.15" y="180.85" font-size="11.7" text-anchor="end" >0.0</text>
<text x="43.15" y="273.79" font-size="11.7" text-anchor="end" >8.0</text>
<text x="43.15" y="317.63" font-size="11.7" text-anchor="end" >6.0</text>
<text x="43.15" y="361.47" font-size="11.7" text-anchor="end" >4.0</text>
<text x="43.15" y="405.31" font-size="11.7" text-anchor="end" >2.0</text>
<text x="138.35" y="460.2" font-size="11.7" text-anchor="middle" >10</text>
<text x="229.6" y="460.2" font-size="11.7" text-anchor="middle" >20</text>
<text x="320.85" y="460.2" font-size="11.7" text-anchor="middle" >30</text>
<text x="230.8" y="475.4" font-size="12" text-anchor="middle" >Temperature (K)</text>
<text x="54.7" y="208.1" font-size="19" text-anchor="start" letter-spacing="-0.35">(a)</text>
<text x="54.7" y="435.3" font-size="19" text-anchor="start" letter-spacing="-0.35">(b)</text>
<text x="331.3" y="21.6" font-size="11.95" text-anchor="start" >band 1, 4b</text>
<text x="331.3" y="36.3" font-size="11.95" text-anchor="start" >band 2, 4b</text>
<text x="331.3" y="51.1" font-size="11.95" text-anchor="start" >band 3,4, 4b</text>
<text x="331.4" y="66.0" font-size="11.95" text-anchor="start" >tot, 4b</text>
<text x="331.3" y="81.2" font-size="11.95" text-anchor="start" >band A, 2b</text>
<text x="331.3" y="96.0" font-size="11.95" text-anchor="start" >band B, 2b</text>
<text x="331.4" y="110.9" font-size="11.95" text-anchor="start" >tot, 2b</text>
<text transform="translate(386.6,249.8) scale(1,0.9)" font-size="10.2">&#916;</text>
<text x="393.7" y="255.0" font-size="7.7" text-anchor="start" >1</text>
<text transform="translate(386.6,269.3) scale(1,0.9)" font-size="10.2">&#916;</text>
<text x="393.7" y="274.5" font-size="7.7" text-anchor="start" >2</text>
<text transform="translate(386.6,288.8) scale(1,0.9)" font-size="10.2">&#916;</text>
<text x="393.7" y="294.0" font-size="7.7" text-anchor="start" >3,4</text>
<text transform="translate(386.6,308.3) scale(1,0.9)" font-size="10.2">&#916;</text>
<text x="393.7" y="313.5" font-size="7.7" text-anchor="start" >A</text>
<text transform="translate(386.6,327.6) scale(1,0.9)" font-size="10.2">&#916;</text>
<text x="393.7" y="332.8" font-size="7.7" text-anchor="start" >B</text>
<text x="0" y="0" font-size="12.25" text-anchor="middle" transform="translate(14.0,105.0) rotate(-90)">&#916;F(T) (J/mole)</text>
<text x="0" y="0" font-size="12.35" text-anchor="middle" transform="translate(12.9,328.8) rotate(-90)">|&#916;(T)| (meV)</text>
</g>
</svg>

</div>
</body></html>
